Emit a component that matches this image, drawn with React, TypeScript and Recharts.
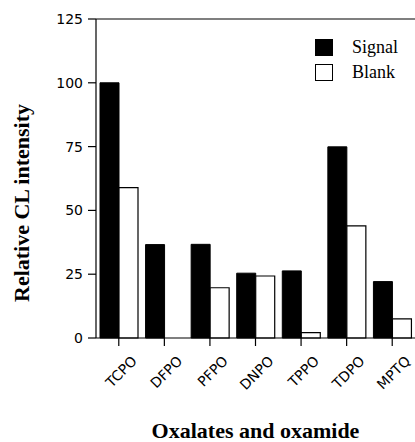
import { BarChart, Bar, XAxis, YAxis, Label, ReferenceLine } from "recharts";

const compounds = ["TCPO", "DFPO", "PFPO", "DNPO", "TPPO", "TDPO", "MPTQ"];
const signal = [100, 36.6, 36.7, 25.4, 26.3, 74.9, 22.1];
const blank = [58.9, 0, 19.7, 24.3, 2.1, 43.9, 7.5];
const yTicks = [0, 25, 50, 75, 100, 125];
const legendItems = [
  { label: "Signal", fill: "#000" },
  { label: "Blank", fill: "#fff" },
];

const data = compounds.map((name, i) => ({
  name,
  signal: signal[i],
  blank: blank[i],
}));

const serif = "'Liberation Serif', 'Times New Roman', serif";
const sans = "'DejaVu Sans', sans-serif";

const CompoundTick = ({ x, y, payload }: any) => (
  <text
    x={x + 19}
    y={y + 14}
    textAnchor="end"
    fontFamily={sans}
    fontSize={14}
    fill="#000"
    transform={`rotate(-45, ${x + 19}, ${y + 14})`}
  >
    {payload.value}
  </text>
);

// legend drawn over the chart, top right inside the plot
const LegendBox = () => (
  <div
    style={{
      position: "absolute",
      left: 315,
      top: 35,
      fontFamily: serif,
      fontSize: 18,
      color: "#000",
    }}
  >
    {legendItems.map((item) => (
      <div
        key={item.label}
        style={{ display: "flex", alignItems: "center", height: 25 }}
      >
        <div
          style={{
            width: 16,
            height: 15,
            background: item.fill,
            border: "1px solid #000",
            marginRight: 19,
          }}
        />
        <span>{item.label}</span>
      </div>
    ))}
  </div>
);

export default function App() {
  return (
    <div style={{ position: "absolute", left: 0, top: 0, width: 415, height: 442 }}>
      <BarChart
        width={415}
        height={442}
        data={data}
        margin={{ top: 19, right: 0, left: 0, bottom: 44 }}
        barCategoryGap={4}
        barGap={0}
      >
        <ReferenceLine y={125} stroke="#000" strokeWidth={1.2} />
        <XAxis
          dataKey="name"
          height={60}
          interval={0}
          stroke="#000"
          tickSize={8}
          tickLine={{ stroke: "#000", strokeWidth: 1.2 }}
          axisLine={{ stroke: "#000", strokeWidth: 1.2 }}
          tick={<CompoundTick />}
        >
          <Label
            content={(props: any) => {
              const vb = props.viewBox;
              return (
                <text
                  x={vb.x + vb.width / 2}
                  y={438}
                  textAnchor="middle"
                  fontFamily={serif}
                  fontWeight="bold"
                  fontSize={22}
                  fill="#000"
                >
                  Oxalates and oxamide
                </text>
              );
            }}
          />
        </XAxis>
        <YAxis
          width={96}
          domain={[0, 125]}
          ticks={yTicks}
          interval={0}
          tickSize={8}
          tickMargin={5}
          tick={{ fontFamily: sans, fontSize: 14, fill: "#000" }}
          tickLine={{ stroke: "#000", strokeWidth: 1.2 }}
          axisLine={{ stroke: "#000", strokeWidth: 1.2 }}
        >
          <Label
            content={() => (
              <text
                x={29}
                y={203}
                textAnchor="middle"
                fontFamily={serif}
                fontWeight="bold"
                fontSize={22}
                fill="#000"
                transform="rotate(-90, 29, 203)"
              >
                Relative CL intensity
              </text>
            )}
          />
        </YAxis>
        <Bar
          dataKey="signal"
          name="Signal"
          fill="#000"
          stroke="#000"
          isAnimationActive={false}
        />
        <Bar
          dataKey="blank"
          name="Blank"
          fill="#fff"
          stroke="#000"
          strokeWidth={1.2}
          isAnimationActive={false}
        />
      </BarChart>
      <LegendBox />
    </div>
  );
}
